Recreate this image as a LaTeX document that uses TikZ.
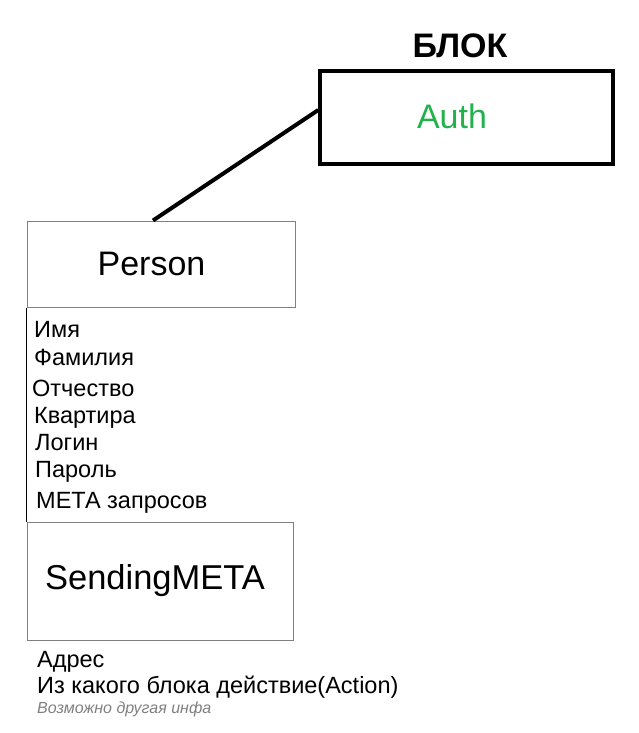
\documentclass[tikz,border=0pt]{standalone}
\usepackage{fontspec}
\setmainfont{Liberation Sans}
\usepackage{xcolor}
\usetikzlibrary{positioning}
\definecolor{authgreen}{RGB}{34,177,76}
\definecolor{boxgray}{RGB}{128,128,128}
\tikzstyle{blockbox} = [rectangle, draw=black, line width=3.5pt, inner sep=0pt]
\tikzstyle{classbox} = [rectangle, draw=boxgray, line width=1pt, inner sep=0pt, font=\fontsize{34}{36}\selectfont]
\tikzstyle{field} = [anchor=base west, inner sep=0pt, font=\fontsize{23.5}{26}\selectfont]
\tikzstyle{note} = [anchor=base west, inner sep=0pt, text=boxgray, font=\itshape\fontsize{16}{19}\selectfont]
\tikzstyle{link} = [line width=4pt]

\begin{document}
\begin{tikzpicture}[x=1pt, y=-1pt]
    \useasboundingbox (0,0) rectangle (638,733);
    % block
    \node[inner sep=0pt, anchor=base, font=\bfseries\fontsize{34}{36}\selectfont] (blocktitle) at (460,58) {БЛОК};
    \node[blockbox, minimum width=293pt, minimum height=93pt, text=authgreen, font=\fontsize{34}{36}\selectfont] (auth) at (466.5,117.5) {\hspace*{-29pt}\raisebox{3pt}{Auth}};

    % classes
    \node[classbox, minimum width=268pt, minimum height=86pt] (person) at (161,264) {\hspace*{-19pt}Person};
    \node[classbox, minimum width=266pt, minimum height=118pt, font=\fontsize{34.5}{37}\selectfont] (sending) at (160,581) {\hspace*{-10pt}SendingMETA};

    \draw[link] ([xshift=-8pt]person.north) -- ([yshift=7.5pt]auth.west);
    \draw[line width=1pt] (person.south west) -- (sending.north west);

    % fields of Person
    \node[field] (name) at (34,337) {Имя};
    \node[field] (surname) at (34,365) {Фамилия};
    \node[field] (patronymic) at (32,396) {Отчество};
    \node[field] (flat) at (34,423) {Квартира};
    \node[field] (login) at (35,450) {Логин};
    \node[field] (password) at (35,477) {Пароль};
    \node[field] (meta) at (36,508) {МЕТА запросов};

    % fields of SendingMETA
    \node[field] (address) at (37,667) {Адрес};
    \node[field] (action) at (37,693) {Из какого блока действие(Action)};
    \node[note] (other) at (37,713) {Возможно другая инфа};
\end{tikzpicture}
\end{document}
